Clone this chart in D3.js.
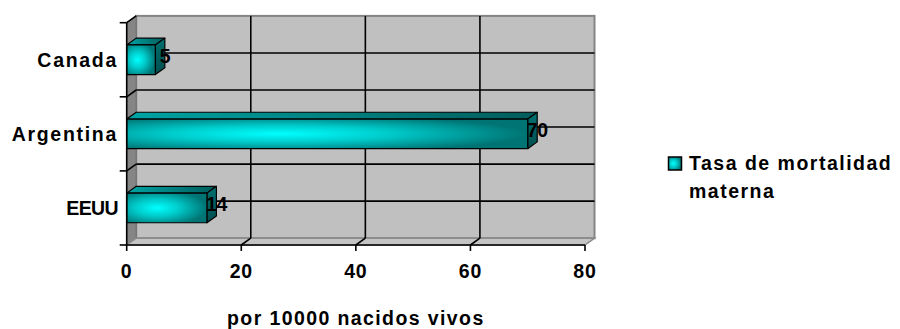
<!DOCTYPE html>
<html>
<head>
<meta charset="utf-8">
<script src="https://cdn.jsdelivr.net/npm/d3@7"></script>
<style>
    body { margin: 0; background: #ffffff; }
    svg text {
        font-family: "Liberation Sans", Arial, sans-serif;
        font-weight: bold;
        fill: #000000;
    }
</style>
</head>
<body>
<svg id="chart"></svg>
<script>
// categories, top to bottom as drawn
const countries = ['Canada', 'Argentina', 'EEUU'];

// maternal mortality per 10000 live births
const mortality = [5, 70, 14];

// value axis ticks
const xTicks = [0, 20, 40, 60, 80];

// legend and axis title
const seriesName = ['Tasa de mortalidad', 'materna'];
const axisTitle = 'por 10000 nacidos vivos';

class BarChart3D {
    constructor() {
        this.width = 900;
        this.height = 329;

        // offset of the back wall from the front plane
        this.dx = 9.5;
        this.dy = 6.8;

        this.fontSize = 19.5;

        this.xScale = d3.scaleLinear()
            .domain([0, 80])
            .range([126.7, 585]);
        this.yScale = d3.scaleBand()
            .domain(countries)
            .range([22.7, 245])
            .paddingInner(0.6)
            .paddingOuter(0.3);

        this.draw();
    }

    draw() {
        let that = this;
        let dx = this.dx, dy = this.dy;
        let x = this.xScale, y = this.yScale;
        let x0 = x.range()[0], x1 = x.range()[1];
        let y0 = y.range()[0], y1 = y.range()[1];
        let step = y.step();
        let fs = this.fontSize;

        let svg = d3.select('#chart')
            .attr('width', that.width)
            .attr('height', that.height);

        let defs = svg.append('defs');

        // front face gradient, bright cyan in the middle
        let front = defs.append('radialGradient')
            .attr('id', 'frontGrad')
            .attr('cx', 0.38).attr('cy', 0.5).attr('r', 0.62);
        front.append('stop').attr('offset', 0).attr('stop-color', '#00ffff');
        front.append('stop').attr('offset', 0.45).attr('stop-color', '#00caca');
        front.append('stop').attr('offset', 1).attr('stop-color', '#007474');

        let top = defs.append('linearGradient')
            .attr('id', 'topGrad');
        top.append('stop').attr('offset', 0).attr('stop-color', '#00a4a4');
        top.append('stop').attr('offset', 1).attr('stop-color', '#005c5c');

        let side = defs.append('linearGradient')
            .attr('id', 'sideGrad')
            .attr('x1', 0).attr('y1', 0).attr('x2', 0).attr('y2', 1);
        side.append('stop').attr('offset', 0).attr('stop-color', '#007070');
        side.append('stop').attr('offset', 1).attr('stop-color', '#004e4e');

        // walls
        let walls = svg.append('g').attr('class', 'walls');
        walls.append('rect')
            .attr('x', x0 + dx)
            .attr('y', y0 - dy)
            .attr('width', x1 - x0)
            .attr('height', y1 - y0)
            .attr('fill', '#c0c0c0')
            .attr('stroke', '#848484')
            .attr('stroke-width', 2);
        walls.append('polygon')
            .attr('points', [[x0, y0], [x0 + dx, y0 - dy], [x0 + dx, y1 - dy], [x0, y1]].join(' '))
            .attr('fill', '#858585')
            .attr('stroke', '#6e6e6e')
            .attr('stroke-width', 1);
        walls.append('polygon')
            .attr('points', [[x0, y1], [x1, y1], [x1 + dx, y1 - dy], [x0 + dx, y1 - dy]].join(' '))
            .attr('fill', '#c4c4c4')
            .attr('stroke', '#8c8c8c')
            .attr('stroke-width', 1.5);

        // gridlines: category boundaries and centres on back wall
        let grid = svg.append('g').attr('class', 'grid')
            .attr('stroke', '#000')
            .attr('stroke-width', 1.6);
        let hLines = [];
        for (let k = 1; k < countries.length; k++) hLines.push(y0 + k * step);
        countries.forEach(c => hLines.push(y(c) + y.bandwidth() / 2));
        grid.selectAll('line.h')
            .data(hLines)
            .enter()
            .append('line')
            .attr('class', 'h')
            .attr('x1', x0 + dx).attr('x2', x1 + dx)
            .attr('y1', d => d - dy).attr('y2', d => d - dy);

        // left wall diagonals
        let bounds = [];
        for (let k = 0; k < countries.length; k++) bounds.push(y0 + k * step);
        grid.selectAll('line.ld')
            .data(bounds)
            .enter()
            .append('line')
            .attr('class', 'ld')
            .attr('x1', x0).attr('y1', d => d)
            .attr('x2', x0 + dx).attr('y2', d => d - dy);

        // vertical gridlines + floor diagonals
        let inner = xTicks.filter(t => t > 0 && t < 80);
        grid.selectAll('line.v')
            .data(inner)
            .enter()
            .append('line')
            .attr('class', 'v')
            .attr('x1', d => x(d) + dx).attr('x2', d => x(d) + dx)
            .attr('y1', y0 - dy).attr('y2', y1 - dy);
        grid.selectAll('line.fd')
            .data(inner)
            .enter()
            .append('line')
            .attr('class', 'fd')
            .attr('x1', d => x(d)).attr('y1', y1)
            .attr('x2', d => x(d) + dx).attr('y2', y1 - dy);

        // bars
        let data = countries.map((c, i) => ({ name: c, value: mortality[i] }));
        let bars = svg.append('g').attr('class', 'bars')
            .selectAll('g')
            .data(data)
            .enter()
            .append('g')
            .attr('stroke', '#000')
            .attr('stroke-width', 1.2)
            .attr('stroke-linejoin', 'round');

        bars.append('polygon')
            .attr('fill', 'url(#topGrad)')
            .attr('points', d => {
                let bx = x(d.value), by = y(d.name);
                return [[x0, by], [bx, by], [bx + dx, by - dy], [x0 + dx, by - dy]].join(' ');
            });
        bars.append('polygon')
            .attr('fill', 'url(#sideGrad)')
            .attr('points', d => {
                let bx = x(d.value), by = y(d.name), bh = y.bandwidth();
                return [[bx, by], [bx + dx, by - dy], [bx + dx, by + bh - dy], [bx, by + bh]].join(' ');
            });
        bars.append('rect')
            .attr('fill', 'url(#frontGrad)')
            .attr('x', x0)
            .attr('y', d => y(d.name))
            .attr('width', d => x(d.value) - x0)
            .attr('height', y.bandwidth());

        // front axes
        let axes = svg.append('g').attr('class', 'axes')
            .attr('stroke', '#000')
            .attr('stroke-width', 1.6);
        axes.append('line')
            .attr('x1', x0).attr('x2', x0)
            .attr('y1', y0).attr('y2', y1);
        axes.append('line')
            .attr('x1', x0).attr('x2', x1)
            .attr('y1', y1).attr('y2', y1);
        axes.selectAll('line.yt')
            .data(bounds.concat([y1]))
            .enter()
            .append('line')
            .attr('class', 'yt')
            .attr('x1', x0 - 7).attr('x2', x0)
            .attr('y1', d => d).attr('y2', d => d);
        axes.selectAll('line.xt')
            .data(xTicks)
            .enter()
            .append('line')
            .attr('class', 'xt')
            .attr('x1', d => x(d)).attr('x2', d => x(d))
            .attr('y1', y1).attr('y2', y1 + 6);

        // value labels at the back edge of each bar
        svg.append('g')
            .selectAll('text')
            .data(data)
            .enter()
            .append('text')
            .attr('x', d => x(d.value) + dx)
            .attr('y', d => y(d.name) + y.bandwidth() / 2 + 3.5)
            .attr('text-anchor', 'middle')
            .attr('font-size', fs)
            .attr('letter-spacing', -0.5)
            .text(d => d.value);

        // category labels
        svg.append('g')
            .selectAll('text')
            .data(countries)
            .enter()
            .append('text')
            .attr('x', 118)
            .attr('y', d => y(d) + y.bandwidth() / 2 + 6.8)
            .attr('text-anchor', 'end')
            .attr('font-size', fs)
            .attr('letter-spacing', d => d === 'EEUU' ? -0.6 : 1.7)
            .text(d => d);

        // tick labels
        svg.append('g')
            .selectAll('text')
            .data(xTicks)
            .enter()
            .append('text')
            .attr('x', d => x(d))
            .attr('y', 277.7)
            .attr('text-anchor', 'middle')
            .attr('font-size', fs)
            .attr('letter-spacing', 0.8)
            .text(d => d);

        // axis title
        svg.append('text')
            .attr('x', (x0 + x1) / 2)
            .attr('y', 325)
            .attr('text-anchor', 'middle')
            .attr('font-size', fs)
            .attr('letter-spacing', 1.4)
            .text(axisTitle);

        // legend
        let legend = svg.append('g').attr('class', 'legend');
        legend.append('rect')
            .attr('x', 668.5).attr('y', 157)
            .attr('width', 13).attr('height', 13)
            .attr('fill', 'url(#frontGrad)')
            .attr('stroke', '#000')
            .attr('stroke-width', 1.5);
        legend.selectAll('text')
            .data(seriesName)
            .enter()
            .append('text')
            .attr('x', 689)
            .attr('y', (d, i) => 170 + i * 28)
            .attr('font-size', fs)
            .attr('letter-spacing', 1.5)
            .text(d => d);
    }
}

new BarChart3D();
</script>
</body>
</html>
